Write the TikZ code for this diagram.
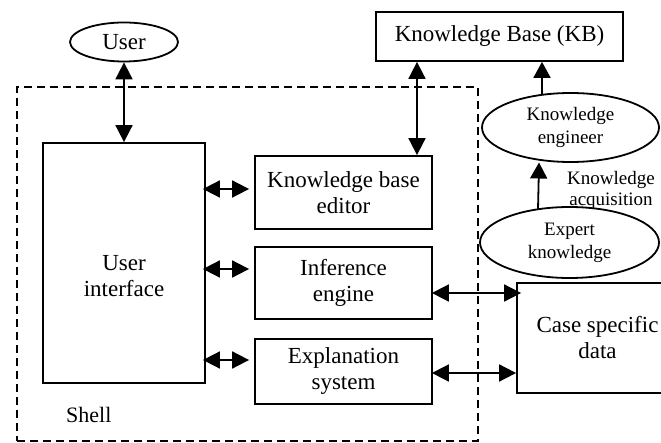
\documentclass[tikz,border=0pt]{standalone}
\usepackage{fontspec}
\setmainfont{Liberation Serif}
\usetikzlibrary{arrows.meta,calc,shapes.geometric}

\begin{document}
\begin{tikzpicture}[x=1pt, y=-1pt, line width=1.8pt,
	box node/.style={draw,rectangle,inner sep=0pt,align=center,font=\fontsize{23}{26}\selectfont},
	oval node/.style={draw,ellipse,inner sep=0pt,align=center,font=\fontsize{19}{23}\selectfont},
	both way/.style={{Triangle[length=17pt,width=17pt]}-{Triangle[length=17pt,width=17pt]}},
	one way/.style={-{Triangle[length=16pt,width=17pt]}}]
	
	\useasboundingbox (0,0) rectangle (661,443);
	\clip (0,0) rectangle (661,443);
	
	\node[draw, dash pattern=on 8pt off 5pt, minimum width=461pt, minimum height=354pt] (shell box) at (247.5,264) {};
	\node[anchor=west, font=\fontsize{22}{26}\selectfont] (shell) at (62,415) {Shell};
	
	\node[oval node, minimum width=108pt, minimum height=39pt, font=\fontsize{23}{26}\selectfont] (user) at (124,42) {User};
	\node[box node, minimum width=247pt, minimum height=49pt] (kb) at (499.5,36.5) {Knowledge Base (KB)};
	\node[oval node, minimum width=177pt, minimum height=69pt] (eng) at (570.5,127.5) {Knowledge\\engineer};
	\node[oval node, minimum width=179pt, minimum height=71pt] (expert) at (569.5,242.5) {Expert\\knowledge};
	\node[align=center, font=\fontsize{19}{21}\selectfont] (acq) at (611,190) {Knowledge\\acquisition};
	
	\node[box node, minimum width=162pt, minimum height=240pt] (ui) at (124,263) {};
	\node[align=center, font=\fontsize{23}{26}\selectfont] (ui text) at (124,276) {User\\interface};
	\node[box node, minimum width=177pt, minimum height=73pt] (kbe) at (343.5,192.5) {Knowledge base\\editor};
	\node[box node, minimum width=177pt, minimum height=72pt] (inf) at (343.5,283) {Inference\\engine};
	\node[box node, minimum width=177pt, minimum height=65pt] (expl) at (343.5,371.5) {Explanation\\system};
	\node[box node, minimum width=161pt, minimum height=110pt] (case) at (597.5,338) {Case specific\\data};
	
	\draw[both way] (user.south) -- (ui.north);
	\draw[both way] ($(kbe.north)+(73.5,0)$) coordinate (k1) -- (k1 |- kb.south);
	\draw[one way] ($(eng.center)+(-28.5,-33)$) coordinate (k2) -- (k2 |- kb.south);
	\draw[one way, shorten >=-2pt] ($(expert.center)+(-31.5,-33)$) coordinate (k3) -- ($(eng.center)+(-31.5,37)$);
	
	\draw[both way, shorten <=-3pt, shorten >=5pt] ($(ui.east |- kbe.west)+(0,-3.5)$) -- ($(kbe.west)+(0,-3.5)$);
	\draw[both way, shorten <=-3pt, shorten >=5pt] ($(ui.east |- inf.west)+(0,-14)$) -- ($(inf.west)+(0,-14)$);
	\draw[both way, shorten <=-3pt, shorten >=5pt] ($(ui.east |- expl.west)+(0,-11.5)$) -- ($(expl.west)+(0,-11.5)$);
	\draw[both way, shorten <=-1pt, shorten >=-5pt] ($(inf.east)+(0,10)$) -- ($(case.west |- inf.east)+(0,10)$);
	\draw[both way, shorten <=-1pt] ($(expl.east)+(0,1.5)$) -- ($(case.west |- expl.east)+(0,1.5)$);
	
\end{tikzpicture}
\end{document}
